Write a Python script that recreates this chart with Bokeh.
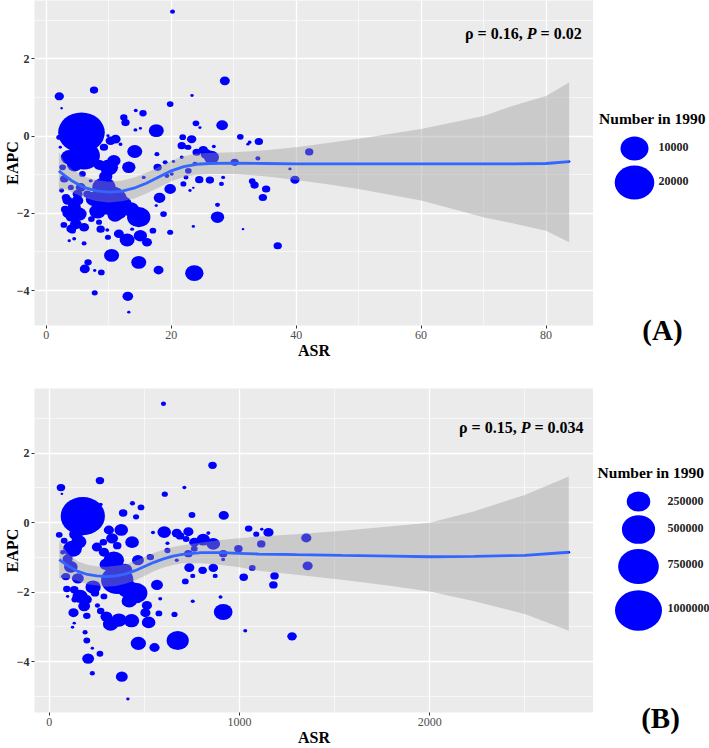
import math
from bokeh.plotting import figure
from bokeh.layouts import column, row
from bokeh.models import Range1d, FixedTicker, Label, ColumnDataSource
from bokeh.core.properties import value
from bokeh.embed import file_html
from bokeh.resources import INLINE

# ---------------- Panel A data ----------------
A_ASR = [20.2, 2.07, 7.63, 2.44, 28.57, 23.32, 19.82, 5.62, 12.40, 12.67,
         14.31, 15.47, 14.26, 15.05, 17.60, 9.86, 23.95, 24.59, 28.14, 2.07,
         2.23, 6.04, 3.66, 2.60, 2.86, 2.44, 3.39, 4.45, 5.25, 3.92,
         4.72, 6.04, 4.19, 3.66, 4.45, 6.04, 7.21, 8.43, 8.69, 9.75,
         9.86, 6.15, 6.68, 7.74, 8.80, 7.74, 13.04, 13.20, 10.44, 14.79,
         17.96, 23.69, 11.61, 12.93, 15.05, 16.11, 13.73, 17.06, 19.82, 23.53,
         31.48, 37.04, 27.40, 27.40, 14.79, 10.28, 9.22, 7.63, 10.02, 10.81,
         10.28, 9.22, 11.08, 11.87, 13.20, 14.15, 15.58, 17.70, 17.81, 19.02,
         18.12, 17.59, 18.76, 19.82, 19.29, 20.08, 20.35, 21.83, 22.47, 21.67,
         23.26, 22.73, 24.06, 25.12, 25.65, 26.44, 26.81, 24.48, 22.36, 22.73,
         21.94, 23.00, 23.53, 26.18, 28.03, 28.30, 23.79, 21.67, 30.15, 31.05,
         32.54, 32.27, 34.02, 33.86, 39.00, 39.80, 42.08, 32.96, 33.33, 35.19,
         34.66, 3.13, 4.98, 5.51, 6.57, 7.10, 5.78, 3.92, 83.7, 3.5,
         4.0, 5.0, 3.0, 2.8, 8.2, 11.5, 12.3, 12.0, 13.5, 8.8,
         11.0, 4.5, 6.8, 8.5, 9.5]
A_EAPC = [3.22, 1.03, 1.19, 0.72, 1.43, 1.05, 0.83, 0.09, 0.48, 0.35,
          0.66, 0.59, 0.16, 0.20, 0.14, 0.01, 0.33, 0.22, 0.28, -0.03,
          -0.29, -0.51, -0.55, -0.81, -1.11, -1.41, -1.67, -1.84, -2.02, -2.10,
          -2.28, -2.36, -2.45, -2.71, -2.66, -2.78, -2.15, -2.23, -2.41, -2.43,
          -2.62, -3.44, -3.27, -3.48, -3.53, -4.06, -4.15, -4.56, -3.09, -3.27,
          -3.47, -3.55, -2.53, -2.69, -2.58, -2.75, -2.41, -2.45, -2.49, -2.34,
          -2.41, -2.84, -2.10, -1.78, -2.10, -1.67, -1.33, -1.63, -0.81, -0.64,
          -0.12, -0.29, -0.08, -0.21, -0.81, -0.40, -1.07, -0.47, -0.81, -0.68,
          -1.60, -1.80, -2.02, -1.37, -1.03, -0.98, -0.66, -0.03, -0.29, -0.25,
          -0.08, -0.29, -0.42, -0.36, -0.47, -0.55, -0.27, -1.13, -1.07, -0.90,
          -1.24, -1.41, -1.34, -1.14, -1.24, -1.07, -0.72, -0.55, -0.68, -0.02,
          -0.16, -0.21, -0.14, -0.58, -0.85, -1.13, -0.41, -1.17, -1.27, -1.37,
          -1.59, -1.59, -1.67, -1.33, -1.50, -1.16, -0.98, -1.33, -0.66, -2.00,
          -2.40, -1.50, -1.90, -2.30, -1.95, -1.95, -1.75, -1.75, -1.90, -1.85,
          -2.05, -0.75, -0.35, -0.75, -1.05]
A_NUMBER = [319, 1111, 886, 91, 1276, 142, 567, 27778, 686, 886,
            204, 686, 204, 142, 2870, 142, 567, 142, 1736, 459,
            142, 12790, 3543, 567, 886, 319, 1276, 2268, 2870, 1276,
            1736, 1276, 567, 142, 204, 319, 567, 459, 886, 204,
            459, 1276, 686, 142, 567, 459, 1451, 142, 2870, 2870,
            1276, 4287, 1276, 2870, 2268, 1276, 204, 567, 459, 142,
            91, 886, 2268, 319, 6944, 14172, 6944, 3543, 4287, 2268,
            1276, 886, 1276, 204, 2268, 2870, 204, 319, 886, 319,
            1736, 142, 567, 1736, 319, 204, 142, 567, 319, 886,
            1111, 459, 886, 1111, 1736, 2870, 204, 886, 319, 567,
            459, 142, 91, 886, 319, 204, 319, 204, 886, 567,
            204, 142, 886, 319, 142, 1111, 886, 567, 886, 886,
            886, 886, 1736, 1276, 886, 204, 567, 459, 91, 1736,
            1276, 1276, 886, 567, 3543, 4287, 3543, 4287, 3543, 2870,
            2870, 2870, 1736, 1736, 2268]

# loess smooth (fit with 95% CI) for panel A
A_SM_X = [2.0, 3.0, 4.0, 6.0, 8.0, 10.0, 12.0, 14.0, 16.0, 18.0, 20.0, 22.0,
          24.0, 26.0, 30.0, 35.0, 40.0, 45.0, 50.0, 60.0, 70.0, 75.0, 80.0, 83.7]
A_SM_FIT = [-0.90, -1.03, -1.15, -1.33, -1.42, -1.45, -1.43, -1.35, -1.22, -1.06, -0.90, -0.79,
            -0.73, -0.71, -0.70, -0.71, -0.72, -0.72, -0.72, -0.72, -0.72, -0.72, -0.71, -0.66]
A_SM_LO = [-1.40, -1.38, -1.45, -1.60, -1.68, -1.72, -1.69, -1.62, -1.49, -1.33, -1.17, -1.06,
           -1.00, -0.98, -0.98, -1.04, -1.14, -1.25, -1.37, -1.67, -2.10, -2.27, -2.45, -2.75]
A_SM_HI = [-0.42, -0.70, -0.85, -1.05, -1.14, -1.18, -1.16, -1.08, -0.95, -0.80, -0.64, -0.52,
           -0.46, -0.44, -0.42, -0.37, -0.29, -0.18, -0.07, 0.18, 0.52, 0.80, 1.04, 1.39]

A_TICKS = [0, 20, 40, 60, 80]
A_MINOR = [10, 30, 50, 70]
A_LEGEND_VALUES = [10000, 20000]
A_LEGEND_LABELS = ["10000", "20000"]

# ---------------- Panel B data ----------------
B_ASR = [600, 858, 266, 61, 66, 607, 710, 176, 270, 437,
         482, 388, 456, 750, 917, 52, 122, 140, 313, 378,
         435, 466, 284, 287, 357, 339, 357, 453, 531, 545,
         604, 621, 621, 566, 583, 576, 513, 505, 522, 432,
         366, 322, 270, 253, 240, 287, 197, 162, 183, 131,
         92, 96, 127, 197, 131, 122, 188, 197, 226, 204,
         266, 226, 381, 413, 468, 553, 675, 658, 754, 914,
         900, 1030, 1276, 736, 715, 754, 806, 862, 872, 670,
         687, 731, 719, 762, 809, 862, 836, 914, 914, 762,
         731, 670, 1048, 1088, 1117, 1152, 1114, 994, 1067, 1022,
         1184, 1178, 1351, 1358, 87, 70, 113, 96, 70, 78,
         134, 2731, 218, 300, 400, 150, 230, 410, 330, 250,
         155, 420, 300]
B_EAPC = [3.42, 1.65, 1.21, 1.01, 0.83, 0.82, 1.01, 0.19, 0.52, 0.56,
          0.44, 0.28, 0.17, 0.22, 0.21, -0.35, -0.75, -0.33, -0.21, -0.21,
          -0.56, -1.08, -0.56, -0.85, -0.66, -1.08, -1.65, -2.02, -0.99, -0.28,
          -0.27, -0.59, -0.80, -1.79, -2.19, -2.61, -2.38, -2.59, -2.87, -2.82,
          -2.80, -2.92, -2.54, -2.38, -2.02, -2.12, -2.21, -2.12, -2.40, -1.93,
          -1.91, -2.12, -2.59, -2.68, -2.89, -3.01, -3.15, -3.39, -3.61, -3.91,
          -3.77, -4.33, -4.43, -5.07, -3.47, -3.59, -3.39, -2.64, -2.26, -2.57,
          -2.14, -3.11, -3.27, -1.29, -1.69, -1.53, -1.37, -1.30, -1.53, -0.30,
          -0.38, -0.26, -0.47, -0.56, -0.49, -0.61, -0.30, -0.89, -1.06, -0.75,
          -0.89, -1.08, -0.17, -0.33, -0.19, -0.28, -0.61, -0.75, -1.30, -1.57,
          -1.53, -1.79, -0.44, -1.24, -1.55, -1.55, -1.27, -1.04, -0.85, -0.52,
          -2.21, -0.85, -0.14, -1.20, -1.35, -1.60, -1.85, -1.90, -0.45, -0.70,
          -0.55, -2.25, -2.70]
B_NUMBER = [11815, 32819, 32819, 32819, 3361, 17013, 7561, 887419, 7561, 11815,
            21004, 32819, 17013, 21004, 47259, 21004, 158843, 84016, 47259, 84016,
            84016, 64325, 25415, 47259, 32819, 189036, 473904, 257299, 25415, 7561,
            84016, 7561, 17013, 64325, 7561, 21004, 47259, 47259, 84016, 106333,
            106333, 106333, 25415, 11815, 32819, 21004, 47259, 106333, 64325, 32819,
            25415, 5251, 47259, 25415, 5251, 5251, 11815, 21004, 5251, 64325,
            21004, 11815, 64325, 5251, 106333, 47259, 221849, 17013, 7561, 158843,
            7561, 7561, 41168, 47259, 21004, 11815, 32819, 41168, 11815, 47259,
            32819, 47259, 21004, 47259, 84016, 84016, 7561, 32819, 7561, 21004,
            32819, 7561, 25415, 17013, 5251, 47259, 32819, 32819, 21004, 32819,
            32819, 32819, 47259, 47259, 32819, 5251, 84016, 47259, 11815, 21004,
            21004, 3361, 47259, 84016, 84016, 64325, 106333, 189036, 64325, 47259,
            106333, 106333, 64325]

B_SM_X = [52, 100, 150, 200, 250, 300, 350, 400, 450, 500, 550, 600, 650, 700,
          800, 900, 1000, 1100, 1300, 1540, 1800, 2000, 2235, 2500, 2731]
B_SM_FIT = [-1.06, -1.25, -1.40, -1.49, -1.53, -1.55, -1.53, -1.48, -1.38, -1.26, -1.14, -1.04, -0.96, -0.91,
            -0.86, -0.86, -0.88, -0.90, -0.92, -0.94, -0.96, -0.98, -0.97, -0.94, -0.85]
B_SM_LO = [-1.60, -1.60, -1.68, -1.77, -1.81, -1.84, -1.82, -1.76, -1.66, -1.53, -1.40, -1.29, -1.22, -1.17,
           -1.17, -1.22, -1.28, -1.38, -1.50, -1.64, -1.82, -1.98, -2.26, -2.63, -3.11]
B_SM_HI = [-0.52, -0.90, -1.12, -1.21, -1.25, -1.27, -1.24, -1.20, -1.10, -0.99, -0.87, -0.78, -0.70, -0.65,
           -0.57, -0.50, -0.45, -0.40, -0.33, -0.23, -0.10, 0.00, 0.33, 0.80, 1.33]

B_TICKS = [0, 1000, 2000]
B_MINOR = [500, 1500, 2500]
B_LEGEND_VALUES = [250000, 500000, 750000, 1000000]
B_LEGEND_LABELS = ["250000", "500000", "750000", "1000000"]

Y_TICKS = [-4, -2, 0, 2]
Y_MINOR = [-5, -3, -1, 1, 3]

# ---------------- styling / layout ----------------
SERIF = "Liberation Serif"
KA = 0.28            # px per sqrt(number), panel A
KB = 0.047           # px per sqrt(number), panel B
ASPECT = 1.16        # width / height of the bubbles
MAIN_W = 593
LEG_W = 116
H_A, TOP_A, BOT_A = 370, 0, 45
H_B, TOP_B, BOT_B = 378, 18, 30


def size_w(n, k):
    return k * math.sqrt(n)


def make_panel(asr, eapc, number, k, sx, sfit, slo, shi, xr, yr, xt, xm,
               height, top, bottom, rho_txt, p_val, ann_x, ann_y, fs=16):
    p = figure(width=MAIN_W, height=height, x_range=Range1d(*xr), y_range=Range1d(*yr),
               toolbar_location=None, output_backend="svg",
               min_border_left=30, min_border_right=0, min_border_top=top,
               min_border_bottom=bottom, background_fill_color="#EBEBEB",
               border_fill_color="white", outline_line_color=None, frame_align=False)
    w = [size_w(n, k) for n in number]
    h = [wi / ASPECT for wi in w]
    src = ColumnDataSource(dict(x=asr, y=eapc, w=w, h=h))
    p.ellipse(x="x", y="y", width="w", height="h", width_units="screen",
              height_units="screen", source=src, fill_color="#0000FF", line_color=None)
    p.varea(x=sx, y1=slo, y2=shi, fill_color="#999999", fill_alpha=0.4)
    p.line(sx, sfit, line_color="#3366FF", line_width=2.8)

    xtick = FixedTicker(ticks=xt, minor_ticks=xm)
    ytick = FixedTicker(ticks=Y_TICKS, minor_ticks=Y_MINOR)
    p.xaxis[0].ticker = xtick
    p.yaxis[0].ticker = ytick
    p.xgrid[0].ticker = xtick
    p.ygrid[0].ticker = ytick
    p.grid.grid_line_color = "white"
    p.grid.grid_line_width = 1.3
    p.grid.minor_grid_line_color = "white"
    p.grid.minor_grid_line_width = 0.6

    p.axis.axis_line_color = None
    p.axis.major_tick_line_color = "#333333"
    p.axis.major_tick_out = 3
    p.axis.major_tick_in = 0
    p.axis.minor_tick_line_color = None
    p.axis.major_label_text_font = SERIF
    p.axis.major_label_text_font_size = "12px"
    p.axis.major_label_standoff = 1
    p.xaxis.major_label_text_color = "#4D4D4D"
    p.yaxis.major_label_text_color = "#333333"
    p.yaxis.major_label_text_font_style = "bold"
    p.axis.axis_label_text_font = SERIF
    p.axis.axis_label_text_font_style = "bold"
    p.axis.axis_label_text_font_size = "16px"
    p.axis.axis_label_text_color = "black"
    p.xaxis.axis_label = "ASR"
    p.yaxis.axis_label = "EAPC"
    p.xaxis.axis_label_standoff = 0
    p.yaxis.axis_label_standoff = -7

    # annotation:  rho = .., P = ..  (P in bold italic)
    tail = "= " + p_val
    tail_em = 0.57 + 0.25 + sum(0.25 if c == "." else 0.5 for c in p_val)
    gap = 0.25 * fs
    w_tail = tail_em * fs
    w_p = 0.611 * fs
    common = dict(x=ann_x, y=ann_y, text_font=SERIF, text_font_size=f"{fs}px",
                  text_align="right", text_baseline="middle", text_color="black")
    p.add_layout(Label(text=tail, x_offset=0, text_font_style="bold", **common))
    p.add_layout(Label(text="P", x_offset=-(w_tail + gap), text_font_style="bold italic", **common))
    p.add_layout(Label(text=rho_txt, x_offset=-(w_tail + gap + w_p + gap),
                       text_font_style="bold", **common))
    return p


def make_legend(height, values, labels, k, title_xy, ell_x, ell_ys, lab_x, lab_ys, tag, tag_xy):
    # frame fills the whole figure; data units == pixels from the figure's top-left
    q = figure(width=LEG_W, height=height, x_range=Range1d(0, LEG_W),
               y_range=Range1d(height, 0),
               toolbar_location=None, output_backend="svg", x_axis_location=None,
               y_axis_location=None, min_border=0, outline_line_color=None,
               background_fill_color="white", border_fill_color="white", frame_align=False)
    q.grid.visible = False
    w = [size_w(v, k) for v in values]
    h = [wi / ASPECT for wi in w]
    q.ellipse(x=[ell_x] * len(values), y=ell_ys, width=w, height=h, width_units="screen",
              height_units="screen", fill_color="#0000FF", line_color=None)
    q.text(x=[title_xy[0]], y=[title_xy[1]], text=["Number in 1990"], text_font=value(SERIF),
           text_font_style="bold", text_font_size="15.5px", text_align="center",
           text_baseline="middle", text_color="black")
    q.text(x=[lab_x] * len(labels), y=lab_ys, text=labels, text_font=value(SERIF),
           text_font_style="bold", text_font_size="12px", text_align="left",
           text_baseline="middle", text_color="#222222")
    q.text(x=[tag_xy[0]], y=[tag_xy[1]], text=[tag], text_font=value(SERIF),
           text_font_style="bold", text_font_size="29px", text_align="center",
           text_baseline="middle", text_color="black")
    return q


pA = make_panel(A_ASR, A_EAPC, A_NUMBER, KA, A_SM_X, A_SM_FIT, A_SM_LO, A_SM_HI,
                (-1.9, 87.6), (-4.905, 3.51), A_TICKS, A_MINOR,
                height=H_A, top=TOP_A, bottom=BOT_A, rho_txt="ρ = 0.16,", p_val="0.02",
                ann_x=85.7, ann_y=2.65)
legA = make_legend(H_A, A_LEGEND_VALUES, A_LEGEND_LABELS, KA, (59, 118), 41,
                   [148, 182], 65, [146, 180], "(A)", (69, 329))

pB = make_panel(B_ASR, B_EAPC, B_NUMBER, KB, B_SM_X, B_SM_FIT, B_SM_LO, B_SM_HI,
                (-78, 2861), (-5.46, 3.86), B_TICKS, B_MINOR,
                height=H_B, top=TOP_B, bottom=BOT_B, rho_txt="ρ = 0.15,", p_val="0.034",
                ann_x=2809, ann_y=2.74)
legB = make_legend(H_B, B_LEGEND_VALUES, B_LEGEND_LABELS, KB, (57.5, 102), 45,
                   [131, 159, 196, 240], 74, [130, 157, 193, 237], "(B)", (67, 347))

layout = column(row(pA, legA), row(pB, legB))
open("out.html", "w").write(file_html(layout, INLINE))
